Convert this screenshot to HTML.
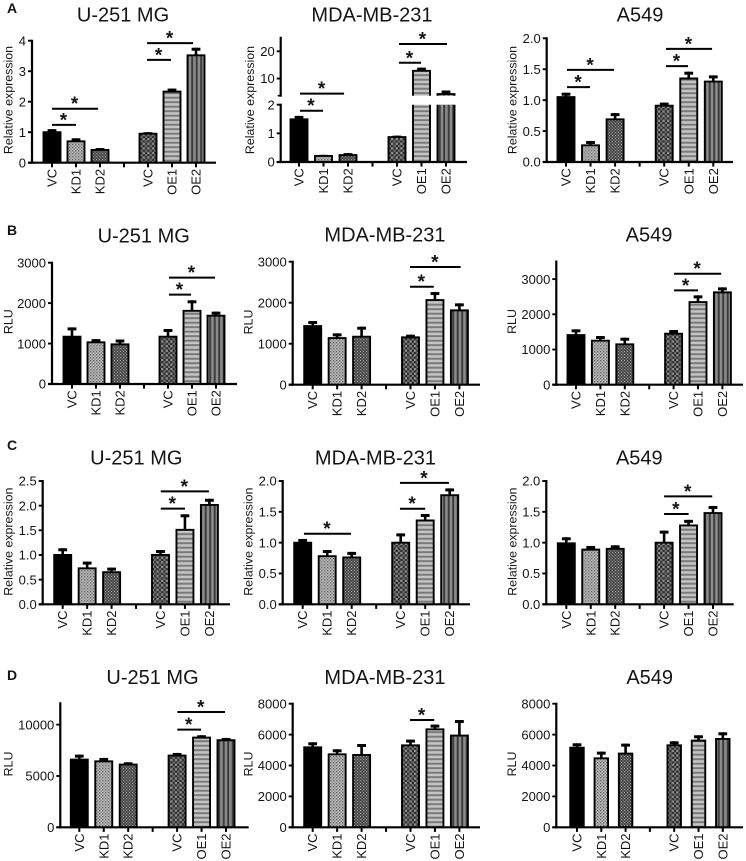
<!DOCTYPE html>
<html lang="en">
<head>
<meta charset="utf-8">
<title>Relative expression and RLU bar chart panels</title>
<style>
html,body{margin:0;padding:0;background:#fff;width:746px;height:861px;overflow:hidden}
svg{display:block;filter:blur(0.35px)}
text{font-family:"Liberation Sans",Arial,sans-serif;fill:#141414}
</style>
</head>
<body>
<svg id="figure" xmlns="http://www.w3.org/2000/svg" width="746" height="861" viewBox="0 0 746 861">
<defs>
<pattern id="p-kd1" width="3" height="3" patternUnits="userSpaceOnUse"><rect width="3" height="3" fill="#b4b4b4"/><rect x="0" y="0" width="1.3" height="1.3" fill="#6a6a6a"/><rect x="1.5" y="1.5" width="1.2" height="1.2" fill="#808080"/></pattern>
<pattern id="p-kd2" width="3" height="3" patternUnits="userSpaceOnUse"><rect width="3" height="3" fill="#484848"/><rect x="0" y="0" width="1.1" height="1.1" fill="#9a9a9a"/><rect x="1.5" y="1.5" width="1.1" height="1.1" fill="#8a8a8a"/></pattern>
<pattern id="p-vc2" width="4.6" height="4.6" patternUnits="userSpaceOnUse"><rect width="4.6" height="4.6" fill="#303030"/><rect x="0" y="0" width="2.3" height="2.3" fill="#8e8e8e"/><rect x="2.3" y="2.3" width="2.3" height="2.3" fill="#6e6e6e"/></pattern>
<pattern id="p-oe1" width="4.5" height="4.5" patternUnits="userSpaceOnUse"><rect width="4.5" height="4.5" fill="#c4c4c4"/><rect y="2.2" width="4.5" height="2" fill="#7a7a7a"/></pattern>
<pattern id="p-oe2" width="4.5" height="4.5" patternUnits="userSpaceOnUse"><rect width="4.5" height="4.5" fill="#8c8c8c"/><rect x="2.2" width="2" height="4.5" fill="#3c3c3c"/></pattern>
</defs>
</svg>
<script>
const categories = ['VC', 'KD1', 'KD2', '', 'VC', 'OE1', 'OE2'];
const fillIds = ['#000', 'url(#p-kd1)', 'url(#p-kd2)', null, 'url(#p-vc2)', 'url(#p-oe1)', 'url(#p-oe2)'];

const a1Ticks = ['0', '1', '2', '3', '4'];
const a1Values = [1.0, 0.7, 0.42, null, 0.95, 2.33, 3.52];
const a1Errors = [1.1, 0.8, 0.48, null, 1.0, 2.43, 3.77];
const a1Sig = [[0, 1.92, 1.77], [0, 1, 1.24], [3.96, 5.88, 3.92], [3.96, 4.96, 3.37]];

const a2Ticks = ['0', '1', '2', '10', '20'];
const a2Values = [1.49, 0.21, 0.24, null, 0.87, 12.85, 4.3];
const a2Errors = [1.61, 0.25, 0.31, null, 0.92, 14, 5.6];
const a2Sig = [[0.04, 1.84, 4.44], [0.04, 0.98, 1.79], [4.08, 6.04, 22.7], [4.08, 4.98, 15.8]];

const a3Ticks = ['0.0', '0.5', '1.0', '1.5', '2.0'];
const a3Values = [1.05, 0.27, 0.69, null, 0.91, 1.35, 1.3];
const a3Errors = [1.12, 0.34, 0.79, null, 0.96, 1.46, 1.4];
const a3Sig = [[0.04, 1.96, 1.49], [0.04, 0.98, 1.21], [4.07, 5.95, 1.83], [4.07, 4.97, 1.55]];

const b1Ticks = ['0', '1000', '2000', '3000'];
const b1Values = [1170, 1030, 980, null, 1170, 1810, 1690];
const b1Errors = [1400, 1110, 1100, null, 1360, 2070, 1790];
const b1Sig = [[4.04, 5.96, 2630], [4.04, 4.96, 2210]];

const b2Ticks = ['0', '1000', '2000', '3000'];
const b2Values = [1430, 1138, 1170, null, 1154, 2065, 1813];
const b2Errors = [1553, 1252, 1415, null, 1220, 2260, 1984];
const b2Sig = [[3.98, 6.05, 2870], [3.98, 4.95, 2390]];

const b3Ticks = ['0', '1000', '2000', '3000'];
const b3Values = [1410, 1250, 1146, null, 1449, 2348, 2623];
const b3Errors = [1572, 1383, 1335, null, 1553, 2538, 2765];
const b3Sig = [[4.02, 5.95, 3153], [4.02, 5, 2680]];

const c1Ticks = ['0.0', '0.5', '1.0', '1.5', '2.0', '2.5'];
const c1Values = [1.0, 0.73, 0.65, null, 1.0, 1.51, 2.015];
const c1Errors = [1.136, 0.866, 0.744, null, 1.1, 1.825, 2.14];
const c1Sig = [[4.01, 5.98, 2.29], [4.01, 5, 1.94]];

const c2Ticks = ['0.0', '0.5', '1.0', '1.5', '2.0'];
const c2Values = [1.0, 0.78, 0.76, null, 1.0, 1.36, 1.77];
const c2Errors = [1.06, 0.88, 0.85, null, 1.15, 1.465, 1.88];
const c2Sig = [[0.05, 1.97, 1.145], [3.97, 5.97, 1.97], [3.97, 5, 1.55]];

const c3Ticks = ['0.0', '0.5', '1.0', '1.5', '2.0'];
const c3Values = [0.99, 0.887, 0.9, null, 1.0, 1.28, 1.48];
const c3Errors = [1.087, 0.946, 0.957, null, 1.195, 1.37, 1.595];
const c3Sig = [[4, 5.97, 1.75], [4, 5, 1.465]];

const d1Ticks = ['0', '5000', '10000'];
const d1Values = [6595, 6432, 6108, null, 6985, 8737, 8480];
const d1Errors = [7080, 6758, 6334, null, 7244, 8967, 8704];
const d1Sig = [[4.01, 5.96, 11238], [4.01, 4.98, 9513]];

const d2Ticks = ['0', '2000', '4000', '6000', '8000'];
const d2Values = [5178, 4725, 4680, null, 5307, 6343, 5935];
const d2Errors = [5502, 5049, 5392, null, 5676, 6647, 6945];
const d2Sig = [[3.98, 4.97, 6945]];

const d3Ticks = ['0', '2000', '4000', '6000', '8000'];
const d3Values = [5156, 4466, 4768, null, 5307, 5610, 5717];
const d3Errors = [5437, 4897, 5415, null, 5566, 5955, 6149];
const d3Sig = [];

const rowLetters = [['A', 13], ['B', 235], ['C', 450], ['D', 680]];

const layouts = [
  {title: 'U-251 MG', tx: 123, ty: 21.7, yt: 'Relative expression', ytx: 12.3, yty: 100, ax: 32, x0: 52, dx: 24, xEnd: 216, bw: 19, segs: [{lo: 0, hi: 4, y1: 162.7, y2: 40.7}], ticks: a1Ticks, vals: a1Values, errs: a1Errors, sig: a1Sig},
  {title: 'MDA-MB-231', tx: 372, ty: 21.7, yt: 'Relative expression', ytx: 254, yty: 100, ax: 280.7, x0: 299, dx: 24.5, xEnd: 467, bw: 19, segs: [{lo: 0, hi: 2, y1: 162, y2: 104.7}, {lo: 3.7, hi: 25, y1: 95.7, y2: 37.7}], ticks: a2Ticks, vals: a2Values, errs: a2Errors, sig: a2Sig},
  {title: 'A549', tx: 640, ty: 21.7, yt: 'Relative expression', ytx: 516.7, yty: 100, ax: 546.7, x0: 566, dx: 24.55, xEnd: 733, bw: 19, segs: [{lo: 0, hi: 2, y1: 162, y2: 38.3}], ticks: a3Ticks, vals: a3Values, errs: a3Errors, sig: a3Sig},
  {title: 'U-251 MG', tx: 143.7, ty: 242.7, yt: 'RLU', ytx: 12.7, yty: 321.7, ax: 52, x0: 72, dx: 24, xEnd: 237, bw: 19, segs: [{lo: 0, hi: 3000, y1: 384, y2: 262.7}], ticks: b1Ticks, vals: b1Values, errs: b1Errors, sig: b1Sig},
  {title: 'MDA-MB-231', tx: 385, ty: 241.7, yt: 'RLU', ytx: 252.7, yty: 322, ax: 292.7, x0: 312.7, dx: 24.45, xEnd: 480, bw: 19, segs: [{lo: 0, hi: 3000, y1: 384.7, y2: 261.7}], ticks: b2Ticks, vals: b2Values, errs: b2Errors, sig: b2Sig},
  {title: 'A549', tx: 649, ty: 241.7, yt: 'RLU', ytx: 516, yty: 321.5, ax: 556.3, x0: 576, dx: 24.4, xEnd: 743, bw: 19, segs: [{lo: 0, hi: 3500, y1: 384.7, y2: 261.5}], ticks: b3Ticks, vals: b3Values, errs: b3Errors, sig: b3Sig},
  {title: 'U-251 MG', tx: 136.3, ty: 464.3, yt: 'Relative expression', ytx: 12.5, yty: 541.7, ax: 42.7, x0: 62.7, dx: 24.45, xEnd: 230, bw: 19, segs: [{lo: 0, hi: 2.5, y1: 604.3, y2: 481}], ticks: c1Ticks, vals: c1Values, errs: c1Errors, sig: c1Sig},
  {title: 'MDA-MB-231', tx: 375.5, ty: 464.3, yt: 'Relative expression', ytx: 252.5, yty: 541.7, ax: 282.7, x0: 302.7, dx: 24.5, xEnd: 470, bw: 19, segs: [{lo: 0, hi: 2, y1: 604.3, y2: 481}], ticks: c2Ticks, vals: c2Values, errs: c2Errors, sig: c2Sig},
  {title: 'A549', tx: 639.3, ty: 464.3, yt: 'Relative expression', ytx: 516.7, yty: 541.7, ax: 546.3, x0: 566.3, dx: 24.45, xEnd: 733.7, bw: 19, segs: [{lo: 0, hi: 2, y1: 604.3, y2: 481}], ticks: c3Ticks, vals: c3Values, errs: c3Errors, sig: c3Sig},
  {title: 'U-251 MG', tx: 152.5, ty: 684, yt: 'RLU', ytx: 12.7, yty: 764, ax: 60.3, x0: 79.3, dx: 24.45, xEnd: 248.7, bw: 19, segs: [{lo: 0, hi: 12080, y1: 827.3, y2: 703.3}], ticks: d1Ticks, vals: d1Values, errs: d1Errors, sig: d1Sig},
  {title: 'MDA-MB-231', tx: 385, ty: 684, yt: 'RLU', ytx: 252.7, yty: 764, ax: 292.7, x0: 312.7, dx: 24.45, xEnd: 480, bw: 19, segs: [{lo: 0, hi: 8000, y1: 827.3, y2: 703.7}], ticks: d2Ticks, vals: d2Values, errs: d2Errors, sig: d2Sig},
  {title: 'A549', tx: 649.7, ty: 684, yt: 'RLU', ytx: 516, yty: 764, ax: 556.3, x0: 577, dx: 24.3, xEnd: 743, bw: 15.5, segs: [{lo: 0, hi: 8000, y1: 827.3, y2: 703.7}], ticks: d3Ticks, vals: d3Values, errs: d3Errors, sig: d3Sig}
];

const NS = 'http://www.w3.org/2000/svg';
const svg = document.getElementById('figure');

function make(tag, attrs, parent) {
  const el = document.createElementNS(NS, tag);
  for (const k in attrs) el.setAttribute(k, attrs[k]);
  parent.appendChild(el);
  return el;
}

function yScale(p, v) {
  for (const s of p.segs) {
    if (v <= s.hi) {
      const clamped = Math.max(v, s.lo);
      return s.y1 + (clamped - s.lo) / (s.hi - s.lo) * (s.y2 - s.y1);
    }
  }
  const last = p.segs[p.segs.length - 1];
  return last.y2;
}

function xScale(p, pos) {
  return p.x0 + pos * p.dx;
}

function drawLetters() {
  for (const row of rowLetters) {
    const el = make('text', {x: 7, y: row[1], 'font-size': 14, 'font-weight': 'bold'}, svg);
    
    
    el.textContent = row[0];
  }
}

function drawPanel(p) {
  const g = make('g', {}, svg);
  
  

  const title = make('text', {x: p.tx, y: p.ty, 'font-size': 20, 'text-anchor': 'middle'}, g);
  
  
  title.textContent = p.title;

  const ytitle = make('text', {transform: 'translate(' + p.ytx + ',' + p.yty + ') rotate(-90)', 'font-size': 12.4, 'text-anchor': 'middle'}, g);
  
  
  ytitle.textContent = p.yt;

  p.vals.forEach(function (v, i) {
    if (v === null) return;
    const cx = xScale(p, i);
    const half = p.bw / 2;
    const top = yScale(p, p.errs[i]);
    const base = yScale(p, v);

    const stem = make('line', {x1: cx, x2: cx, y1: base, y2: top, stroke: '#000', 'stroke-width': 2.6}, g);
    
    
    const cap = make('line', {x1: cx - 4.4, x2: cx + 4.4, y1: top + 1.5, y2: top + 1.5, stroke: '#000', 'stroke-width': 3}, g);
    
    

    for (const s of p.segs) {
      if (v <= s.lo) continue;
      const segTop = yScale(p, Math.min(v, s.hi));
      const hasTop = v <= s.hi;
      const fill = make('rect', {x: cx - half + 1, y: segTop, width: p.bw - 2, height: s.y1 - segTop, fill: fillIds[i]}, g);
      
      
      const l = cx - half + 1;
      const r = cx + half - 1;
      const d = hasTop
        ? 'M' + l + ' ' + s.y1 + 'V' + segTop + 'H' + r + 'V' + s.y1
        : 'M' + l + ' ' + s.y1 + 'V' + segTop + 'M' + r + ' ' + segTop + 'V' + s.y1;
      const outline = make('path', {d: d, fill: 'none', stroke: '#000', 'stroke-width': 1.9}, g);
      
      
    }
  });

  for (const s of p.segs) {
    const yAxis = make('line', {x1: p.ax, x2: p.ax, y1: s.y1 + 1, y2: s.y2 - 1, stroke: '#000', 'stroke-width': 2.2}, g);
    
    
  }
  if (p.segs.length > 1) {
    for (const s of p.segs) {
      const end = s.lo === 0 ? s.y2 : s.y1;
      const brk = make('line', {x1: p.ax - 3, x2: p.ax + 1, y1: end, y2: end, stroke: '#000', 'stroke-width': 1.6}, g);
      
      
    }
  }

  const y0 = p.segs[0].y1;
  const xAxis = make('line', {x1: p.ax - 4, x2: p.xEnd, y1: y0, y2: y0, stroke: '#000', 'stroke-width': 2.2}, g);
  
  

  for (const label of p.ticks) {
    const v = Number(label);
    const y = yScale(p, v);
    const tick = make('line', {x1: p.ax - 4, x2: p.ax, y1: y, y2: y, stroke: '#000', 'stroke-width': 1.9}, g);
    
    
    const t = make('text', {x: p.ax - 6, y: y + 4.7, 'font-size': 13, 'text-anchor': 'end'}, g);
    
    
    t.textContent = label;
  }

  categories.forEach(function (cat, i) {
    const cx = xScale(p, i);
    const tick = make('line', {x1: cx, x2: cx, y1: y0, y2: y0 + 4.6, stroke: '#000', 'stroke-width': 2}, g);
    
    
    if (!cat) return;
    const t = make('text', {transform: 'translate(' + (cx + 4.5) + ',' + (y0 + 6.2) + ') rotate(-90)', 'font-size': 13, 'text-anchor': 'end'}, g);
    
    
    t.textContent = cat;
  });

  for (const b of p.sig) {
    const y = yScale(p, b[2]);
    const x1 = xScale(p, b[0]);
    const x2 = xScale(p, b[1]);
    const line = make('line', {x1: x1, x2: x2, y1: y, y2: y, stroke: '#000', 'stroke-width': 2}, g);
    
    
    const star = make('text', {x: (x1 + x2) / 2 - 0.5, y: y + 1.5, 'font-size': 19, 'font-weight': 'bold', 'text-anchor': 'middle'}, g);
    
    
    star.textContent = '*';
  }
}

drawLetters();
layouts.forEach(drawPanel);
</script>
</body>
</html>
